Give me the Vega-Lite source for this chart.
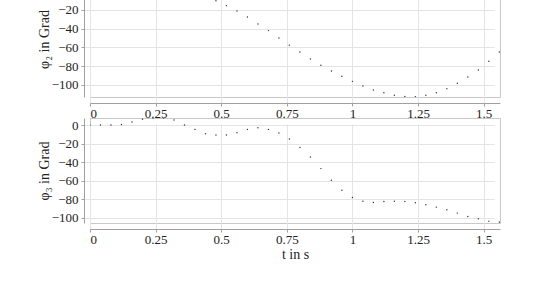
{
  "$schema": "https://vega.github.io/schema/vega-lite/v6.json",
  "padding": {"left": 36, "top": -20, "right": 0, "bottom": 0},
  "background": "white",
  "datasets": {
    "phi2": [
      {"t": 0.48, "v": -10.2}, {"t": 0.52, "v": -15.4}, {"t": 0.56, "v": -21.1}, {"t": 0.60, "v": -27.5},
      {"t": 0.64, "v": -34.9}, {"t": 0.68, "v": -42.0}, {"t": 0.72, "v": -49.9}, {"t": 0.76, "v": -57.5},
      {"t": 0.80, "v": -64.8}, {"t": 0.84, "v": -72.3}, {"t": 0.88, "v": -79.0}, {"t": 0.92, "v": -85.1},
      {"t": 0.96, "v": -90.7}, {"t": 1.00, "v": -96.1}, {"t": 1.04, "v": -101.1}, {"t": 1.08, "v": -105.3},
      {"t": 1.12, "v": -108.2}, {"t": 1.16, "v": -111.0}, {"t": 1.20, "v": -112.1}, {"t": 1.24, "v": -112.5},
      {"t": 1.28, "v": -111.0}, {"t": 1.32, "v": -108.2}, {"t": 1.36, "v": -103.9}, {"t": 1.40, "v": -98.2},
      {"t": 1.44, "v": -91.5}, {"t": 1.48, "v": -84.0}, {"t": 1.52, "v": -74.7}, {"t": 1.56, "v": -64.8}
    ],
    "phi3": [
      {"t": 0.00, "v": 0.0}, {"t": 0.04, "v": 0.0}, {"t": 0.08, "v": 0.0}, {"t": 0.12, "v": 0.5},
      {"t": 0.16, "v": 3.3}, {"t": 0.20, "v": 6.3}, {"t": 0.24, "v": 7.5}, {"t": 0.28, "v": 7.5},
      {"t": 0.32, "v": 5.4}, {"t": 0.36, "v": 0.0}, {"t": 0.40, "v": -4.7}, {"t": 0.44, "v": -9.4},
      {"t": 0.48, "v": -10.8}, {"t": 0.52, "v": -10.8}, {"t": 0.56, "v": -8.3}, {"t": 0.60, "v": -4.7},
      {"t": 0.64, "v": -2.9}, {"t": 0.68, "v": -4.7}, {"t": 0.72, "v": -8.5}, {"t": 0.76, "v": -15.1},
      {"t": 0.80, "v": -24.1}, {"t": 0.84, "v": -34.4}, {"t": 0.88, "v": -47.0}, {"t": 0.92, "v": -59.6},
      {"t": 0.96, "v": -70.3}, {"t": 1.00, "v": -78.2}, {"t": 1.04, "v": -82.2}, {"t": 1.08, "v": -83.5},
      {"t": 1.12, "v": -82.5}, {"t": 1.16, "v": -82.2}, {"t": 1.20, "v": -82.5}, {"t": 1.24, "v": -83.9},
      {"t": 1.28, "v": -86.0}, {"t": 1.32, "v": -88.6}, {"t": 1.36, "v": -91.4}, {"t": 1.40, "v": -95.0},
      {"t": 1.44, "v": -98.6}, {"t": 1.48, "v": -101.1}, {"t": 1.52, "v": -103.7}, {"t": 1.56, "v": -104.7}
    ]
  },
  "spacing": 21,
  "bounds": "flush",
  "vconcat": [
    {
      "width": 410,
      "height": 116,
      "data": {"name": "phi2"},
      "mark": {"type": "point", "filled": true, "size": 2, "color": "#333", "opacity": 1, "clip": true},
      "encoding": {
        "x": {"field": "t", "type": "quantitative",
              "scale": {"domain": [0, 1.5625], "nice": false, "zero": false},
              "axis": {"values": [0, 0.25, 0.5, 0.75, 1, 1.25, 1.5], "format": ".3~g", "title": null}},
        "y": {"field": "v", "type": "quantitative",
              "scale": {"domain": [-112.8, 10.9], "nice": false, "zero": false},
              "axis": {"values": [-100, -80, -60, -40, -20], "title": "φ₂ in Grad"}}
      }
    },
    {
      "width": 410,
      "height": 105,
      "data": {"name": "phi3"},
      "mark": {"type": "point", "filled": true, "size": 2, "color": "#333", "opacity": 1, "clip": true},
      "encoding": {
        "x": {"field": "t", "type": "quantitative",
              "scale": {"domain": [0, 1.5625], "nice": false, "zero": false},
              "axis": {"values": [0, 0.25, 0.5, 0.75, 1, 1.25, 1.5], "format": ".3~g", "title": "t in s"}},
        "y": {"field": "v", "type": "quantitative",
              "scale": {"domain": [-105.7, 7.6], "nice": false, "zero": false},
              "axis": {"values": [-100, -80, -60, -40, -20, 0], "title": "φ₃ in Grad"}}
      }
    }
  ],
  "config": {
    "view": {"stroke": "#c8c8c8", "strokeWidth": 1},
    "font": "Liberation Serif",
    "axis": {
      "offset": 6,
      "domainColor": "#a0a0a0",
      "tickColor": "#a0a0a0",
      "tickSize": 3,
      "labelFont": "Liberation Serif",
      "labelFontSize": 13,
      "labelColor": "#222",
      "labelPadding": 2,
      "titleFont": "Liberation Serif",
      "titleFontSize": 14,
      "titleFontWeight": "normal",
      "titleColor": "#222",
      "gridColor": "#e4e4e4",
      "gridWidth": 1
    },
    "axisY": {"labelPadding": 3, "titlePadding": 0},
    "axisX": {"labelPadding": 1, "titlePadding": 1}
  }
}
